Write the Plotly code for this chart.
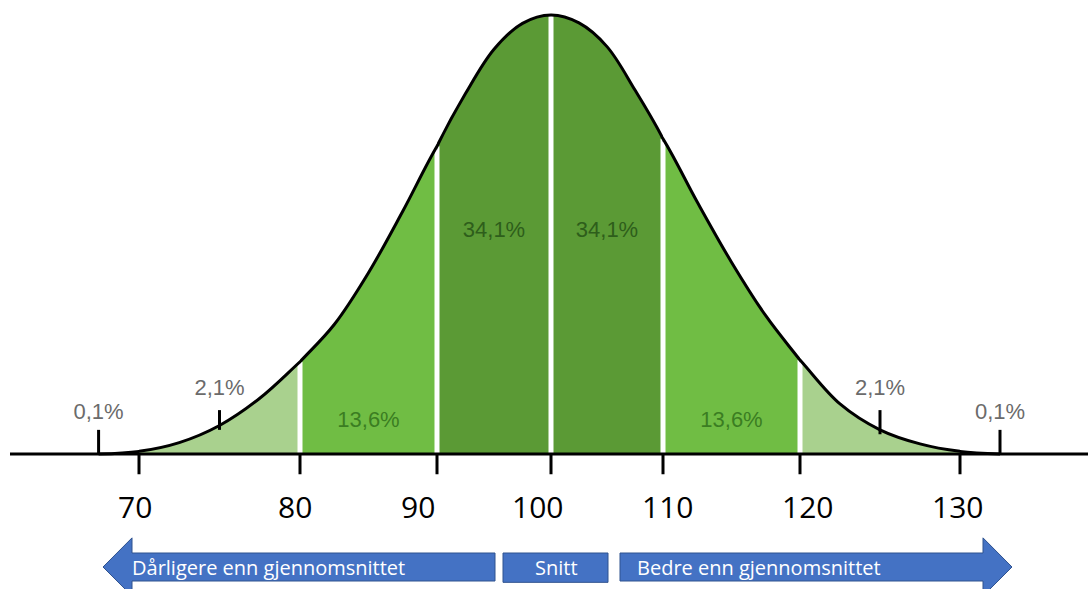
import plotly.graph_objects as go

# ---- data ----
scores = [67.5, 70, 72.5, 75, 77.5, 80, 82.5, 85, 87.5, 90, 92.5, 95, 97.5, 100,
          102.5, 105, 107.5, 110, 112.5, 115, 117.5, 120, 122.5, 125, 127.5, 130, 132.5]
heights = [0.0, 0.006, 0.026, 0.065, 0.127, 0.21, 0.295, 0.413, 0.553, 0.701, 0.821, 0.922, 0.981, 1.0,
           0.982, 0.928, 0.829, 0.718, 0.574, 0.437, 0.315, 0.214, 0.114, 0.055, 0.023, 0.006, 0.0]

band_edges = [70, 80, 90, 100, 110, 120, 130]
band_pct = ["2,1%", "13,6%", "34,1%", "34,1%", "13,6%", "2,1%"]
tail_pct = "0,1%"
tail_scores = [67.5, 132.5]

tick_values = [70, 80, 90, 100, 110, 120, 130]
tick_labels = ["70", "80", "90", "100", "110", "120", "130"]

arrow_texts = ["Dårligere enn gjennomsnittet", "Snitt", "Bedre enn gjennomsnittet"]

# ---- layout: the picture's score axis is piecewise linear, one x axis per segment ----
W, H = 1088, 589
seg_edges = [61.4, 70, 80, 90, 100, 110, 120, 130, 138]     # axis ranges (scores)
seg_px = [0, 139, 300, 437, 551, 663, 800, 960, 1088]        # where each segment sits
label_nudge_px = [-4, -5, -19, -14, 4, 7, -3]                # hand-placed tick labels
NSEG = len(seg_edges) - 1
y_range = [-0.3075, 1.0342]

LIGHT = "#a9d18e"
MED = "#70bd44"
DARK = "#5b9a35"
band_colors = [LIGHT, MED, DARK, DARK, MED, LIGHT]
inner_text_colors = {"13,6%": "#3b7d22", "34,1%": "#2e5e1b"}
GRAY = "#6b6b6b"
BLUE = "#4472C4"
BLUE_EDGE = "#2F528F"


def xname(k):
    return "x" if k == 0 else f"x{k + 1}"


def seg_of(s):
    for k in range(NSEG):
        if seg_edges[k] <= s < seg_edges[k + 1]:
            return k
    return NSEG - 1


def segs_touching(s):
    """segments whose range contains s (two at a segment boundary)."""
    return [k for k in range(NSEG) if seg_edges[k] <= s <= seg_edges[k + 1]]


def h_at(s):
    return heights[scores.index(s)]


def window(a, b):
    """curve points covering [a, b] plus one neighbour on each side (clipped away),
    so the spline runs smoothly through the segment ends."""
    idx = [i for i, s in enumerate(scores) if a <= s <= b]
    lo = max(idx[0] - 1, 0)
    hi = min(idx[-1] + 1, len(scores) - 1)
    return scores[lo:hi + 1], heights[lo:hi + 1]


fig = go.Figure()

# filled bands
for i in range(len(band_edges) - 1):
    a, b = band_edges[i], band_edges[i + 1]
    xs, ys = window(a, b)
    fig.add_trace(go.Scatter(x=xs, y=ys, xaxis=xname(seg_of(a)), yaxis="y", mode="lines",
                             fill="tozeroy", fillcolor=band_colors[i],
                             line=dict(width=0, shape="spline"), hoverinfo="skip"))

# white dividers (drawn on both neighbouring segments)
for e in band_edges[1:-1]:
    for k in segs_touching(e):
        fig.add_trace(go.Scatter(x=[e, e], y=[0, h_at(e)], xaxis=xname(k), yaxis="y",
                                 mode="lines", line=dict(color="white", width=5),
                                 hoverinfo="skip"))

# curve outline, split by segment
for k in range(NSEG):
    xs, ys = window(seg_edges[k], seg_edges[k + 1])
    fig.add_trace(go.Scatter(x=xs, y=ys, xaxis=xname(k), yaxis="y",
                             mode="lines", line=dict(color="black", width=3, shape="spline"),
                             hoverinfo="skip"))

# ticks below the baseline
for t in tick_values:
    for k in segs_touching(t):
        fig.add_trace(go.Scatter(x=[t, t], y=[0, -0.046], xaxis=xname(k), yaxis="y",
                                 mode="lines", line=dict(color="black", width=3),
                                 hoverinfo="skip"))

# tick labels
for t, lab, dx in zip(tick_values, tick_labels, label_nudge_px):
    fig.add_annotation(x=t, y=-0.12, xref=xname(seg_of(t)), yref="y", text=lab,
                       showarrow=False, xanchor="center", yanchor="middle", xshift=dx,
                       font=dict(family="Open Sans", size=30, color="black"))

# inner band labels
for i in range(1, len(band_pct) - 1):
    mid = (band_edges[i] + band_edges[i + 1]) / 2
    yv = 0.508 if band_pct[i] == "34,1%" else 0.075
    fig.add_trace(go.Scatter(x=[mid], y=[yv], xaxis=xname(seg_of(mid)), yaxis="y",
                             mode="text", text=[band_pct[i]], textposition="middle center",
                             cliponaxis=False,
                             textfont=dict(family="Liberation Sans", size=22,
                                           color=inner_text_colors[band_pct[i]]),
                             hoverinfo="skip"))

# outer band pointers (2,1%)
for i in (0, len(band_pct) - 1):
    mid = (band_edges[i] + band_edges[i + 1]) / 2
    k = seg_of(mid)
    fig.add_trace(go.Scatter(x=[mid, mid], y=[h_at(mid) - 0.01, 0.10], xaxis=xname(k), yaxis="y",
                             mode="lines", line=dict(color="black", width=3), hoverinfo="skip"))
    fig.add_trace(go.Scatter(x=[mid], y=[0.146], xaxis=xname(k), yaxis="y", mode="text",
                             text=[band_pct[i]], textposition="middle center", cliponaxis=False,
                             textfont=dict(family="Liberation Sans", size=22, color=GRAY),
                             hoverinfo="skip"))
# tail pointers (0,1%)
for s in tail_scores:
    k = seg_of(s)
    fig.add_trace(go.Scatter(x=[s, s], y=[0, 0.055], xaxis=xname(k), yaxis="y",
                             mode="lines", line=dict(color="black", width=3), hoverinfo="skip"))
    fig.add_trace(go.Scatter(x=[s], y=[0.093], xaxis=xname(k), yaxis="y", mode="text",
                             text=[tail_pct], textposition="middle center", cliponaxis=False,
                             textfont=dict(family="Liberation Sans", size=22, color=GRAY),
                             hoverinfo="skip"))

# baseline
fig.add_shape(type="line", xref="paper", yref="y", x0=10 / W, x1=1, y0=0, y1=0,
              line=dict(color="black", width=3))


# arrows (decoration)
def P(px):
    return px / W


yc, bt, bb, ht, hb = -0.2574, -0.2255, -0.2893, -0.191, -0.3235
left_path = (f"M {P(103)} {yc} L {P(132)} {ht} L {P(132)} {bt} L {P(495)} {bt} L {P(495)} {bb} "
             f"L {P(132)} {bb} L {P(132)} {hb} Z")
right_path = (f"M {P(1012)} {yc} L {P(983)} {ht} L {P(983)} {bt} L {P(620)} {bt} L {P(620)} {bb} "
              f"L {P(983)} {bb} L {P(983)} {hb} Z")
fig.add_shape(type="path", path=left_path, xref="paper", yref="y",
              fillcolor=BLUE, line=dict(color=BLUE_EDGE, width=1))
fig.add_shape(type="rect", x0=P(503), x1=P(608), y0=bb - 0.003, y1=bt, xref="paper", yref="y",
              fillcolor=BLUE, line=dict(color=BLUE_EDGE, width=1))
fig.add_shape(type="path", path=right_path, xref="paper", yref="y",
              fillcolor=BLUE, line=dict(color=BLUE_EDGE, width=1))

afont = dict(family="Open Sans", size=20, color="white")
fig.add_annotation(x=P(130), y=yc, xref="paper", yref="y", text=arrow_texts[0], showarrow=False,
                   xanchor="left", yanchor="middle", font=afont)
fig.add_annotation(x=P(556), y=yc, xref="paper", yref="y", text=arrow_texts[1], showarrow=False,
                   xanchor="center", yanchor="middle", font=afont)
fig.add_annotation(x=P(635), y=yc, xref="paper", yref="y", text=arrow_texts[2], showarrow=False,
                   xanchor="left", yanchor="middle", font=afont)

axes = {}
for k in range(NSEG):
    key = "xaxis" if k == 0 else f"xaxis{k + 1}"
    axes[key] = dict(domain=[seg_px[k] / W, seg_px[k + 1] / W],
                     range=[seg_edges[k], seg_edges[k + 1]],
                     anchor="y", visible=False, fixedrange=True)

fig.update_layout(
    width=W, height=H,
    margin=dict(l=0, r=0, t=0, b=0),
    paper_bgcolor="white", plot_bgcolor="rgba(0,0,0,0)",
    showlegend=False,
    yaxis=dict(range=y_range, visible=False, fixedrange=True),
    **axes,
)

fig.write_html("out.html", config={"displayModeBar": False},
               post_script="document.body.style.margin='0';document.body.style.overflow='hidden';")
